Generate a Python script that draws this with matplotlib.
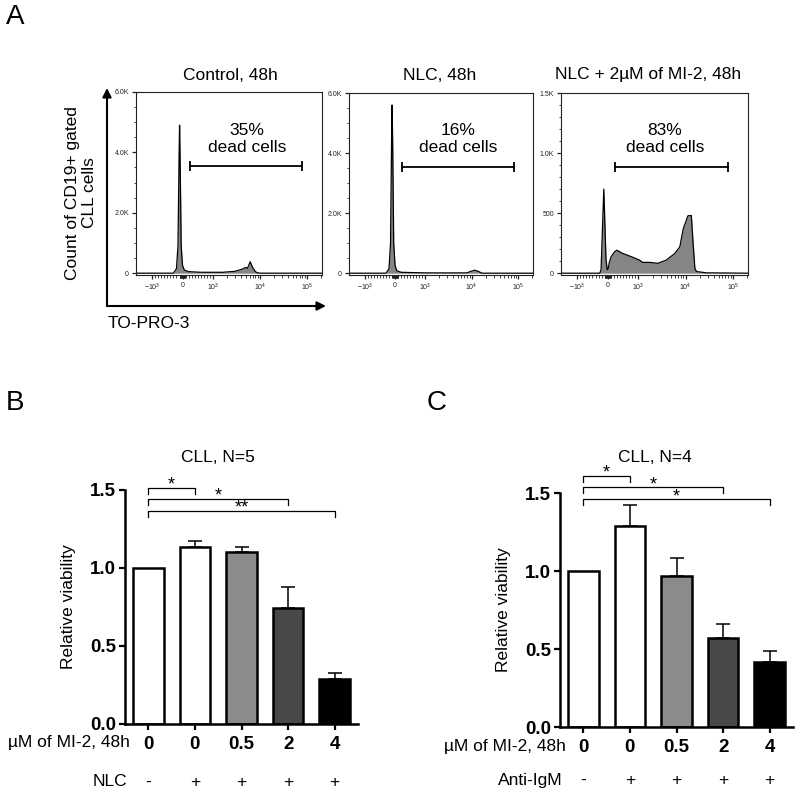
import matplotlib
matplotlib.use('Agg')
import matplotlib.pyplot as plt
from matplotlib.patches import FancyArrowPatch
from matplotlib.ticker import FixedLocator, MultipleLocator

plt.rcParams['font.family'] = ['Liberation Sans', 'DejaVu Sans']
plt.rcParams['mathtext.fontset'] = 'custom'
plt.rcParams['mathtext.rm'] = 'Liberation Sans'

# panel A: flow histograms (TO-PRO-3 intensity, event count)
hist_titles = ['Control, 48h', 'NLC, 48h', 'NLC + 2µM of MI-2, 48h']
hist_pct = ['35%', '16%', '83%']

ctrl_x = [-2200, -300, -200, -150, -115, -98, -80, -45, 0, 60, 200, 600, 1200,
          1600, 2900, 4200, 4900, 5400, 6200, 6900, 8000, 8900, 10700, 210000]
ctrl_y = [0, 0, 150, 900, 3800, 4900, 3800, 900, 250, 100, 50, 30, 30,
          30, 60, 133, 190, 160, 377, 200, 50, 10, 0, 0]

nlc_x = [-2200, -300, -200, -150, -115, -98, -80, -45, 0, 60, 200, 1000,
         8000, 9500, 11700, 14000, 16600, 210000]
nlc_y = [0, 0, 150, 1000, 4400, 5600, 4400, 1000, 250, 80, 30, 10,
         10, 60, 100, 60, 0, 0]

mi2_x = [-2200, -260, -220, -170, -130, -100, -60, -20, 10, 50, 108, 218, 295,
         490, 770, 1050, 1230, 1730, 2570, 3880, 5890, 7520, 8900, 11200, 13200,
         14500, 15700, 17000, 27500, 210000]
mi2_y = [0, 0, 30, 400, 700, 450, 120, 30, 35, 90, 137, 178, 191,
         164, 137, 109, 90, 90, 82, 109, 164, 219, 369, 478, 480,
         232, 41, 14, 3, 0]

gate_x = [230, 80000]
gate_h = [3550, 3550, 880]

ymax = [6000, 6000, 1500]
yticks_list = [[0, 2000, 4000, 6000], [0, 2000, 4000, 6000], [0, 500, 1000, 1500]]
ylabels_list = [['0', '2.0K', '4.0K', '6.0K'], ['0', '2.0K', '4.0K', '6.0K'],
                ['0', '500', '1.0K', '1.5K']]

# panels B and C
doses = ['0', '0', '0.5', '2', '4']
signs = ['-', '+', '+', '+', '+']
bar_colors = ['white', 'white', '#8b8b8b', '#484848', 'black']

nlc_vals = [1.0, 1.135, 1.10, 0.745, 0.288]
nlc_err = [0, 0.04, 0.035, 0.135, 0.037]
nlc_sig = [(0, 1, 1.515, '*'), (0, 3, 1.442, '*'), (0, 4, 1.367, '**')]

igm_vals = [1.0, 1.29, 0.97, 0.57, 0.417]
igm_err = [0, 0.13, 0.115, 0.09, 0.073]
igm_sig = [(0, 1, 1.61, '*'), (0, 3, 1.537, '*'), (0, 4, 1.46, '*')]

W, H = 800, 795
fig = plt.figure(figsize=(W / 100, H / 100), dpi=100)


def fx(x):
    return x / W


def fy(y):
    return 1 - y / H


def add_ax(l, t, r, b):
    return fig.add_axes([fx(l), fy(b), (r - l) / W, (b - t) / H])


# ---------------- panel A ----------------
boxes = [(136, 92, 322, 275), (349, 93, 533, 275), (561, 93, 748, 275)]
hists = [(ctrl_x, ctrl_y), (nlc_x, nlc_y), (mi2_x, mi2_y)]
title_cx = [230, 440, 648]
pct_cx = [247, 458, 665]

lin_minor = [s * v for s in (-1, 1) for v in range(100, 1000, 100)] + \
            [s * v for s in (-1, 1) for v in range(10, 100, 10)]
log_minor = [m * 10 ** k for k in (3, 4) for m in range(2, 10)] + [200000]

for i, (l, t, r, b) in enumerate(boxes):
    ax = add_ax(l, t, r, b)
    hx, hy = hists[i]
    ax.set_xscale('symlog', linthresh=1000, linscale=0.585)
    ax.fill_between(hx, hy, 0, color='#858585', lw=0)
    ax.plot(hx, hy, color='black', lw=0.9)
    ax.set_xlim(-2200, 210000)
    ax.set_ylim(-ymax[i] / 100, ymax[i])
    ax.xaxis.set_major_locator(FixedLocator([-1000, 0, 1000, 10000, 100000]))
    ax.set_xticklabels([r'$-10^3$', '0', r'$10^3$', r'$10^4$', r'$10^5$'])
    ax.xaxis.set_minor_locator(FixedLocator(lin_minor + log_minor))
    ax.set_yticks(yticks_list[i])
    ax.set_yticklabels(ylabels_list[i])
    ax.yaxis.set_minor_locator(MultipleLocator(500 if ymax[i] > 2000 else 100))
    ax.tick_params(which='major', length=3, width=0.9, labelsize=5, pad=2,
                   colors='#222222')
    ax.tick_params(which='minor', length=1.8, width=0.6, colors='#222222')
    for sp in ax.spines.values():
        sp.set_linewidth(0.8)
        sp.set_color('#222222')
    ax.plot(gate_x, [gate_h[i]] * 2, color='black', lw=1.3, marker='|',
            markersize=7, mew=1.3)
    fig.text(fx(title_cx[i]), fy(75), hist_titles[i], ha='center', va='center',
             fontsize=12.5)
    fig.text(fx(pct_cx[i]), fy(139), hist_pct[i] + '\ndead cells', ha='center',
             va='center', fontsize=12.5, linespacing=1.1)

# big axis arrows
for end in [(107, 88), (326, 306)]:
    arr = FancyArrowPatch((fx(107), fy(306)), (fx(end[0]), fy(end[1])),
                          transform=fig.transFigure, arrowstyle='-|>',
                          mutation_scale=13, lw=1.5, color='black',
                          shrinkA=0, shrinkB=0)
    fig.add_artist(arr)
fig.text(fx(108), fy(324), 'TO-PRO-3', ha='left', va='center', fontsize=12.5)
fig.text(fx(81), fy(193), 'Count of CD19+ gated\nCLL cells', ha='center',
         va='center', rotation=90, fontsize=12.5, linespacing=1.1)

fig.text(fx(6), fy(17), 'A', ha='left', va='center', fontsize=20)
fig.text(fx(6), fy(403), 'B', ha='left', va='center', fontsize=20)
fig.text(fx(427), fy(403), 'C', ha='left', va='center', fontsize=20)


# ---------------- panels B and C ----------------
def bar_panel(ax, vals, errs, sig, title, title_x, row_label, label_right,
              sign_y, dose_label_y):
    xs = list(range(len(vals)))
    ax.bar(xs, vals, width=0.66, color=bar_colors, edgecolor='black',
           linewidth=1.8, zorder=2)
    ax.errorbar(xs[1:], vals[1:], yerr=[[0] * (len(vals) - 1), errs[1:]],
                fmt='none', ecolor='black', elinewidth=1.1, capsize=5,
                capthick=1.1, zorder=1)
    ax.set_xlim(-0.5, 4.5)
    ax.set_ylim(0, 1.5)
    ax.set_yticks([0, 0.5, 1.0, 1.5])
    ax.set_yticklabels(['0.0', '0.5', '1.0', '1.5'])
    ax.set_xticks(xs)
    ax.set_xticklabels(doses)
    for lab in ax.get_xticklabels() + ax.get_yticklabels():
        lab.set_fontweight('bold')
    ax.tick_params(length=4.5, width=1.6, labelsize=13.5, pad=2)
    ax.tick_params(axis='x', pad=4)
    for s in ('top', 'right'):
        ax.spines[s].set_visible(False)
    for s in ('left', 'bottom'):
        ax.spines[s].set_linewidth(1.8)
    ax.set_ylabel('Relative viability', fontsize=12.5)
    ax.yaxis.set_label_coords(-0.21, 0.5)
    drop = 0.04
    for a, b, y, star in sig:
        ax.plot([a, a, b, b], [y - drop, y, y, y - drop], color='black',
                lw=0.9, clip_on=False)
        ax.text((a + b) / 2, y - 0.012, star, ha='center', va='baseline',
                fontsize=13, clip_on=False)
    fig.text(fx(title_x), fy(458), title, ha='center', va='center',
             fontsize=12.5)
    fig.text(fx(label_right), fy(dose_label_y), 'µM of MI-2, 48h', ha='right',
             va='center', fontsize=12.5)
    fig.text(fx(label_right - 3), fy(sign_y), row_label, ha='right',
             va='center', fontsize=12.5)
    for x, s in zip(xs, signs):
        ax.text(x, fy(sign_y), s, ha='center', va='center', fontsize=12.5,
                transform=ax.get_xaxis_transform().__class__(
                    ax.transData, fig.transFigure))


axB = add_ax(125, 490, 358, 724)
bar_panel(axB, nlc_vals, nlc_err, nlc_sig, 'CLL, N=5', 218, 'NLC', 130,
          782, 743)
axC = add_ax(560, 493, 793, 727)
bar_panel(axC, igm_vals, igm_err, igm_sig, 'CLL, N=4', 655, 'Anti-IgM', 566,
          780, 746)

fig.savefig('out.png', dpi=100)
